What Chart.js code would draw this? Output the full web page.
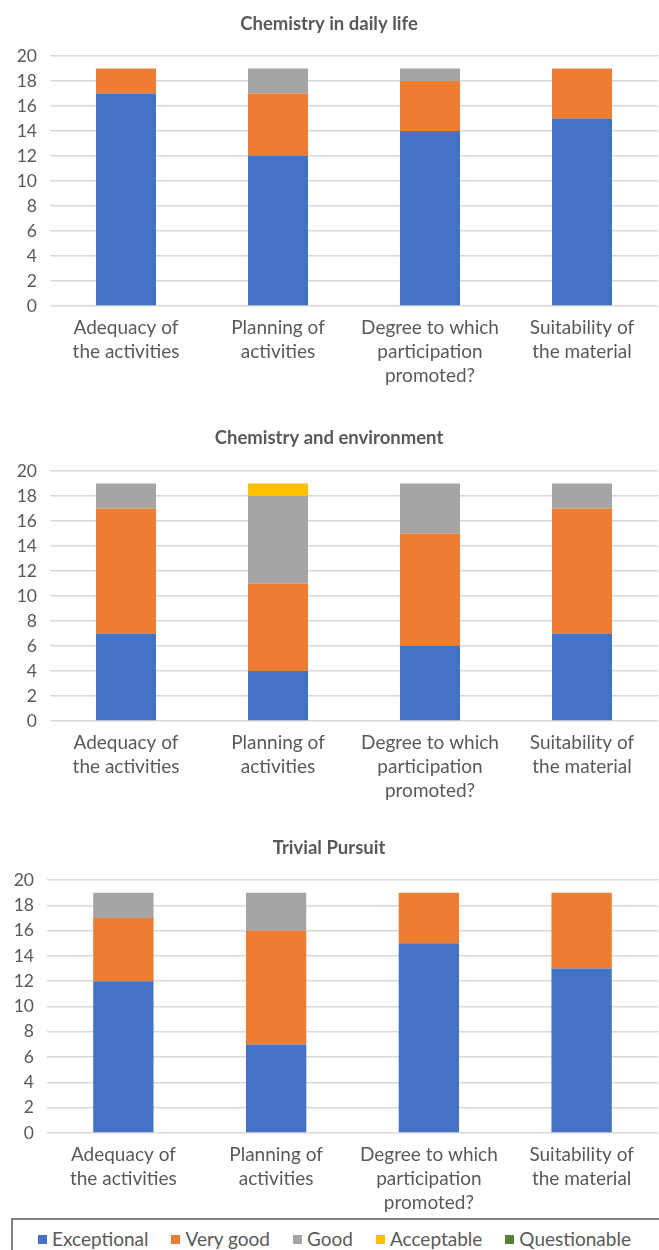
<!DOCTYPE html>
<html lang="en">
<head>
  <meta charset="UTF-8">
  <title>Activity evaluation</title>
  <script src="https://cdn.jsdelivr.net/npm/chart.js"></script>
  <style>
    * { margin: 0; padding: 0; box-sizing: border-box; }
    body {
      width: 659px;
      height: 1250px;
      overflow: hidden;
      background: #ffffff;
      font-family: Lato, "Noto Sans", sans-serif;
      position: relative;
    }
    .box { position: absolute; left: 0; width: 659px; }
    #legend {
      position: absolute;
      left: 11px;
      top: 1218px;
      width: 700px;
      height: 60px;
      border: 2px solid #808080;
      display: flex;
      align-items: flex-start;
      padding: 7px 0 0 25px;
      gap: 23px;
      color: #595959;
      font-size: 19px;
    }
    #legend span.sw {
      display: inline-block;
      width: 9px;
      height: 9px;
      margin-right: 5px;
      vertical-align: 2px;
    }
  </style>
</head>
<body>

  <div class="box" style="top:0;height:412px"><canvas id="c1"></canvas></div>
  <div class="box" style="top:412px;height:410px"><canvas id="c2"></canvas></div>
  <div class="box" style="top:822px;height:395px"><canvas id="c3"></canvas></div>
  <div id="legend"></div>

  <script>
    const categories = [
      ['Adequacy of', 'the activities'],
      ['Planning of', 'activities'],
      ['Degree to which', 'participation', 'promoted?'],
      ['Suitability of', 'the material']
    ];
    const seriesNames = ['Exceptional', 'Very good', 'Good', 'Acceptable', 'Questionable'];
    const seriesColors = ['#4472C4', '#ED7D31', '#A5A5A5', '#FFC000', '#548235'];
    const yTicks = [0, 2, 4, 6, 8, 10, 12, 14, 16, 18, 20];

    // Chemistry in daily life
    const dailyExceptional = [17, 12, 14, 15];
    const dailyVeryGood = [2, 5, 4, 4];
    const dailyGood = [0, 2, 1, 0];
    const dailyAcceptable = [0, 0, 0, 0];
    const dailyQuestionable = [0, 0, 0, 0];

    // Chemistry and environment
    const envExceptional = [7, 4, 6, 7];
    const envVeryGood = [10, 7, 9, 10];
    const envGood = [2, 7, 4, 2];
    const envAcceptable = [0, 1, 0, 0];
    const envQuestionable = [0, 0, 0, 0];

    // Trivial Pursuit
    const triviaExceptional = [12, 7, 15, 13];
    const triviaVeryGood = [5, 9, 4, 6];
    const triviaGood = [2, 3, 0, 0];
    const triviaAcceptable = [0, 0, 0, 0];
    const triviaQuestionable = [0, 0, 0, 0];

    Chart.defaults.font.family = 'Lato, "Noto Sans", sans-serif';
    Chart.defaults.color = '#595959';
    Chart.defaults.animation = false;

    function makeChart(id, title, series, opts) {
      const datasets = series.map((values, i) => ({
        label: seriesNames[i],
        data: values,
        backgroundColor: seriesColors[i],
        borderWidth: 0,
        categoryPercentage: 1,
        barPercentage: 0.395
      }));

      return new Chart(document.getElementById(id), {
        type: 'bar',
        data: { labels: categories, datasets: datasets },
        options: {
          responsive: true,
          maintainAspectRatio: false,
          layout: { padding: { left: 0, right: 1, top: 0, bottom: 0 } },
          plugins: {
            legend: { display: false },
            tooltip: { enabled: false },
            title: {
              display: true,
              text: title,
              color: '#595959',
              font: { size: 18.5, weight: 'bold', lineHeight: 1.2 },
              padding: { top: opts.titleTop, bottom: opts.titleBottom }
            }
          },
          scales: {
            x: {
              stacked: true,
              grid: { display: false },
              border: { display: false },
              ticks: {
                font: { size: 19, lineHeight: 1.27 },
                padding: 2,
                maxRotation: 0,
                autoSkip: false
              },
              afterFit: s => { s.height = opts.xHeight; }
            },
            y: {
              stacked: true,
              min: 0,
              max: 20,
              afterBuildTicks: s => { s.ticks = yTicks.map(v => ({ value: v })); },
              grid: { color: '#d9d9d9', lineWidth: 1.5, drawTicks: false },
              border: { display: false },
              ticks: {
                font: { size: 17.5 },
                padding: 13
              },
              afterFit: s => { s.width = opts.yWidth; }
            }
          }
        }
      });
    }

    makeChart('c1', 'Chemistry in daily life',
      [dailyExceptional, dailyVeryGood, dailyGood, dailyAcceptable, dailyQuestionable],
      { titleTop: 13.4, titleBottom: 20.4, xHeight: 106, yWidth: 50 });

    makeChart('c2', 'Chemistry and environment',
      [envExceptional, envVeryGood, envGood, envAcceptable, envQuestionable],
      { titleTop: 14.9, titleBottom: 21.9, xHeight: 101, yWidth: 50 });

    makeChart('c3', 'Trivial Pursuit',
      [triviaExceptional, triviaVeryGood, triviaGood, triviaAcceptable, triviaQuestionable],
      { titleTop: 14.9, titleBottom: 20.9, xHeight: 84, yWidth: 47 });

    // shared legend under the three charts
    const legend = document.getElementById('legend');
    seriesNames.forEach((name, i) => {
      const item = document.createElement('div');
      const sw = document.createElement('span');
      sw.className = 'sw';
      sw.style.background = seriesColors[i];
      item.appendChild(sw);
      item.appendChild(document.createTextNode(name));
      legend.appendChild(item);
    });
  </script>

</body>
</html>
